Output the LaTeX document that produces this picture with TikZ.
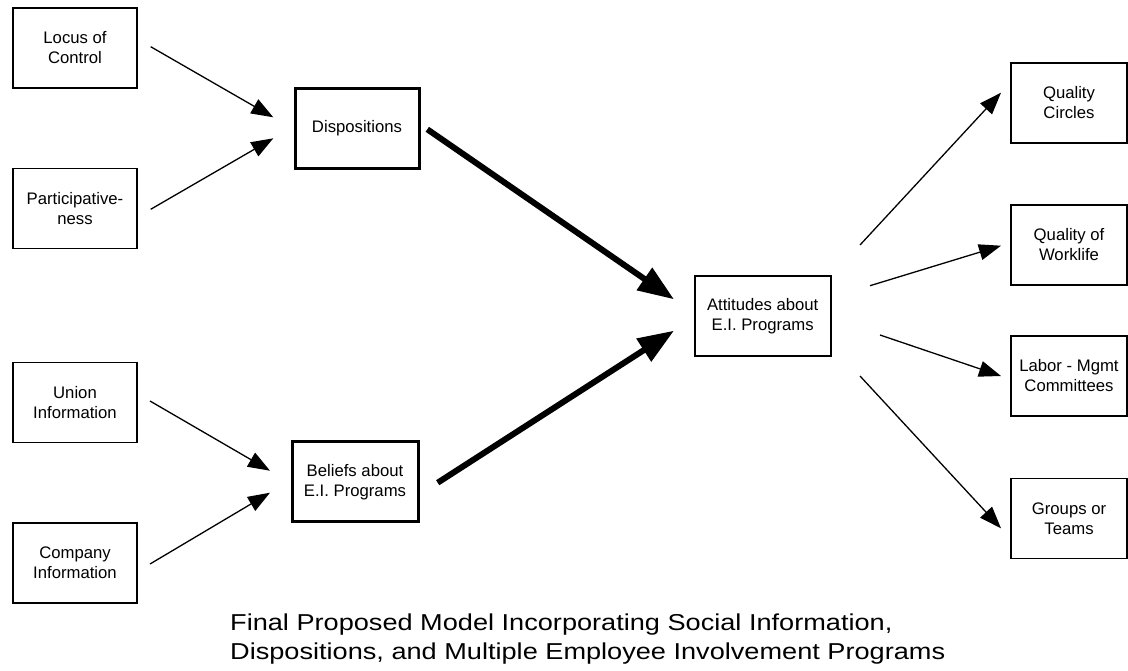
\documentclass[tikz,border=0pt]{standalone}
\usepackage{fontspec}
\setmainfont{Liberation Sans}
\newfontfamily\captionface[FakeStretch=1.18]{Liberation Sans}
\usetikzlibrary{arrows.meta}
\begin{document}
\begin{tikzpicture}[x=1pt,y=-1pt,
  box/.style={draw, line width=1.4pt, minimum width=124pt, minimum height=80pt,
    align=center, inner sep=0pt, font=\fontsize{16.7}{20}\selectfont},
  rbox/.style={box, minimum width=116pt},
  heavybox/.style={box, line width=3pt},
  midbox/.style={box, line width=2.2pt},
  thinarrow/.style={line width=1.3pt, -{Triangle[length=22pt,width=16pt]}},
  thickarrow/.style={line width=6pt, -{Triangle[length=36pt,width=26pt]}},
  captext/.style={anchor=base west, inner sep=0pt, font=\captionface\fontsize{23}{28}\selectfont}
]
\useasboundingbox (0,0) rectangle (1128,670);

% input variables
\node[box] (loc) at (75,48) {Locus of\\Control};
\node[box] (par) at (75,208.5) {Participative-\\ness};
\node[box] (uni) at (75,402.7) {Union\\Information};
\node[box] (com) at (75,563) {Company\\Information};

% mediating constructs
\node[heavybox] (dis) at (357,128) {Dispositions};
\node[heavybox, minimum width=126pt] (bel) at (355,481.7) {Beliefs about\\E.I. Programs};
\node[midbox, minimum width=136pt] (att) at (762.7,316) {Attitudes about\\E.I. Programs};

% program outcomes
\node[rbox] (qc) at (1069,103) {Quality\\Circles};
\node[rbox] (qw) at (1069,245) {Quality of\\Worklife};
\node[rbox] (lab) at (1069,376) {Labor - Mgmt\\Committees};
\node[rbox] (grp) at (1069,518.3) {Groups or\\Teams};

% connector end points
\coordinate (locS) at (150.7,46.7);   \coordinate (locT) at (273.3,117.3);
\coordinate (parS) at (150.7,209.3);  \coordinate (parT) at (273.3,138.3);
\coordinate (uniS) at (150,401);      \coordinate (uniT) at (270,470.7);
\coordinate (comS) at (150,564);      \coordinate (comT) at (270,492.7);
\coordinate (disS) at (427.3,129.3);  \coordinate (disT) at (674,299.3);
\coordinate (belS) at (437.7,482.7);  \coordinate (belT) at (674,330.7);
\coordinate (qcS) at (860,245);       \coordinate (qcT) at (1001,92.7);
\coordinate (qwS) at (870,285.7);     \coordinate (qwT) at (1001,245.7);
\coordinate (labS) at (880,335);      \coordinate (labT) at (1001,376);
\coordinate (grpS) at (860,376);      \coordinate (grpT) at (1001,528.3);

\draw[thinarrow] (locS) -- (locT);
\draw[thinarrow] (parS) -- (parT);
\draw[thinarrow] (uniS) -- (uniT);
\draw[thinarrow] (comS) -- (comT);
\draw[thickarrow] (disS) -- (disT);
\draw[thickarrow] (belS) -- (belT);
\draw[thinarrow] (qcS) -- (qcT);
\draw[thinarrow] (qwS) -- (qwT);
\draw[thinarrow] (labS) -- (labT);
\draw[thinarrow] (grpS) -- (grpT);

% caption
\node[captext] (cap1) at (230,630.5) {Final Proposed Model Incorporating Social Information,};
\node[captext] (cap2) at (230,659) {Dispositions, and Multiple Employee Involvement Programs};
\end{tikzpicture}
\end{document}
